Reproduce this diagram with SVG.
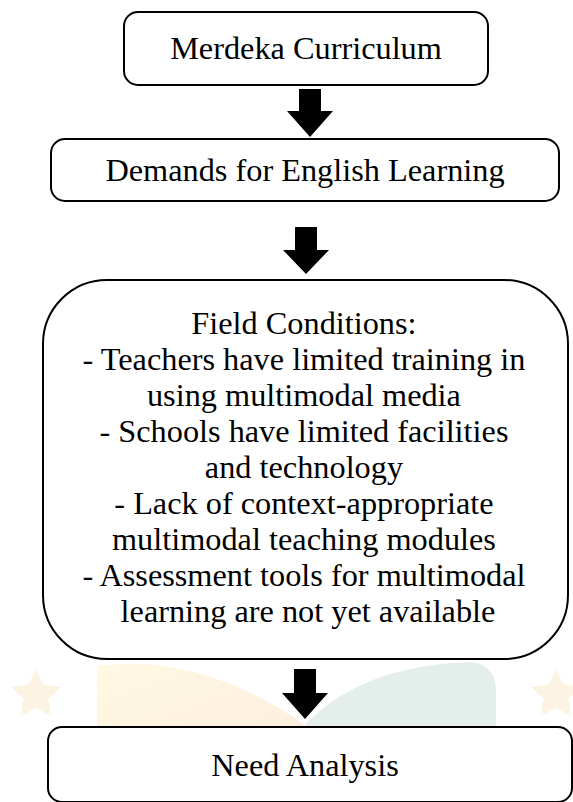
<svg xmlns="http://www.w3.org/2000/svg" width="573" height="802" viewBox="0 0 573 802">
  <style>
    .box { fill: #ffffff; stroke: #000000; stroke-width: 2; }
    .label { font-family: "Liberation Serif", "Times New Roman", serif; font-size: 32.3px; fill: #000000; text-anchor: middle; }
    .arrow { fill: #000000; stroke: none; }
  </style>
  <defs>
    <linearGradient id="warm" x1="0" y1="0" x2="0.6" y2="1">
      <stop offset="0" stop-color="#fff7d6"/>
      <stop offset="1" stop-color="#fce5d0"/>
    </linearGradient>
    <path id="star" d="M0,-26 L7.6,-10.5 L24.7,-8 L12.4,4 L15.3,21 L0,13 L-15.3,21 L-12.4,4 L-24.7,-8 L-7.6,-10.5 Z"/>
  </defs>

  <!-- faint background artwork -->
  <g id="background" opacity="0.7">
    <path d="M97,800 L97,666 Q200,652 305,725 L305,800 Z" fill="url(#warm)"/>
    <path d="M305,725 Q360,666 470,662 Q495,664 496,690 L496,800 L305,800 Z" fill="#d9e8e2"/>
    <use href="#star" x="36" y="695" fill="#fcefd8"/>
    <use href="#star" x="556" y="695" fill="#fcefd8"/>
  </g>

  <g id="connectors">
    <polygon class="arrow" points="299,89 321,89 321,111 333,111 310,137 287,111 299,111"/>
    <polygon class="arrow" points="295,227 317,227 317,250 329,250 306,274 283,250 295,250"/>
    <polygon class="arrow" points="294,669 316,669 316,693 328,693 305,719 282,693 294,693"/>
  </g>

  <g id="merdeka-curriculum">
    <rect class="box" x="124" y="12" width="364" height="73" rx="14"/>
    <text class="label" x="306" y="59">Merdeka Curriculum</text>
  </g>

  <g id="demands">
    <rect class="box" x="51" y="139" width="508" height="62" rx="14"/>
    <text class="label" x="305" y="181">Demands for English Learning</text>
  </g>

  <g id="field-conditions">
    <rect class="box" x="43" y="280" width="525" height="379" rx="64"/>
    <text class="label" x="308">
      <tspan x="308" y="334">Field Conditions:</tspan>
      <tspan x="308" y="370">- Teachers have limited training in</tspan>
      <tspan x="308" y="406">using multimodal media</tspan>
      <tspan x="308" y="442">- Schools have limited facilities</tspan>
      <tspan x="308" y="478">and technology</tspan>
      <tspan x="308" y="514">- Lack of context-appropriate</tspan>
      <tspan x="308" y="550">multimodal teaching modules</tspan>
      <tspan x="308" y="586">- Assessment tools for multimodal</tspan>
      <tspan x="308" y="622">learning are not yet available</tspan>
    </text>
  </g>

  <g id="need-analysis">
    <rect class="box" x="48" y="727" width="524" height="75" rx="14"/>
    <text class="label" x="305" y="776">Need Analysis</text>
  </g>
</svg>
